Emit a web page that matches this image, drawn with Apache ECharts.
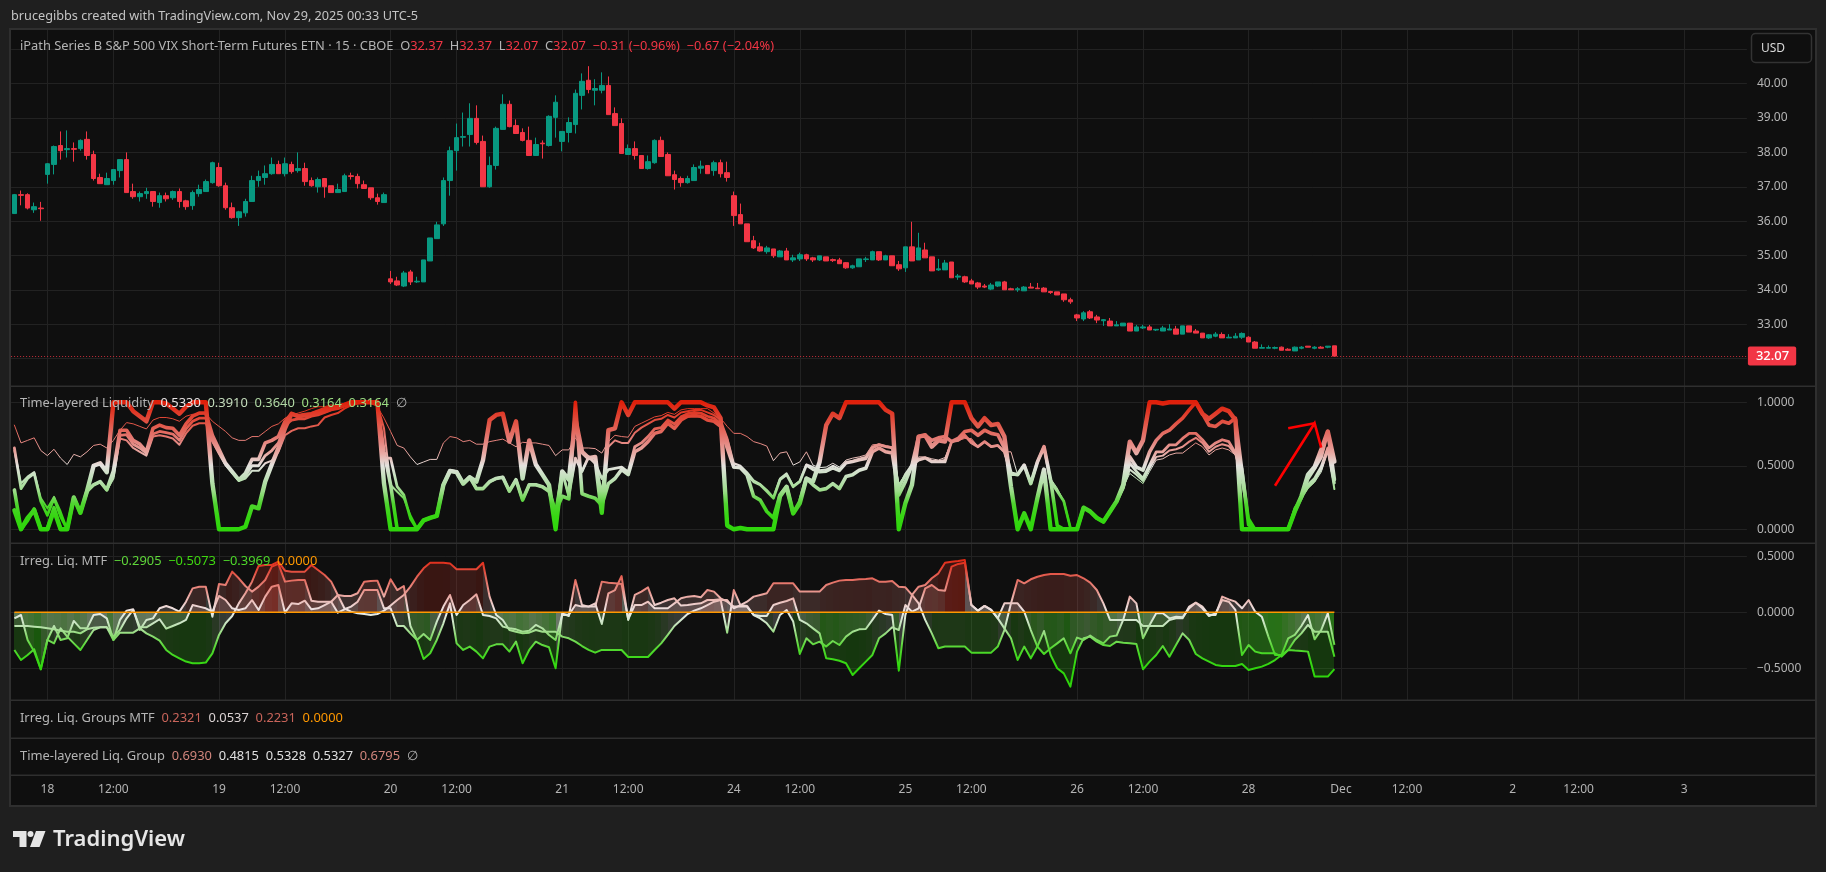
<!DOCTYPE html>
<html>
<head>
<meta charset="utf-8">
<style>html,body{margin:0;padding:0;background:#1f1f1f}#c{width:1826px;height:872px}</style>
<script src="https://cdn.jsdelivr.net/npm/echarts@6/dist/echarts.min.js"></script>
</head>
<body>
<div id="c"></div>
<script>
// candle rows: open, high, low, close (bars 0..200)
const candles = [
[36.22,36.79,36.22,36.77],[36.77,36.89,36.46,36.75],[36.77,36.81,36.34,36.38],[36.33,36.54,36.24,36.42],[36.38,36.56,36.01,36.36],
[37.36,37.69,37.09,37.67],[37.65,38.2,37.36,38.17],[38.2,38.61,37.79,38.05],[38.08,38.64,37.85,38.11],[38.11,38.29,37.73,38.09],
[38.11,38.38,38.05,38.35],[38.38,38.61,37.79,37.91],[37.94,38.05,37.18,37.24],[37.27,37.38,37.09,37.09],[37.06,37.41,37.06,37.24],
[37.18,37.5,37.06,37.5],[37.47,37.79,37.27,37.79],[37.79,38.0,36.83,36.83],[36.86,37.09,36.65,36.71],[36.71,36.86,36.57,36.8],
[36.8,36.97,36.65,36.86],[36.86,36.86,36.42,36.57],[36.54,36.83,36.39,36.74],[36.74,36.83,36.57,36.65],[36.68,36.89,36.62,36.86],
[36.86,36.95,36.39,36.57],[36.59,36.62,36.33,36.42],[36.45,36.89,36.33,36.83],[36.8,37.06,36.71,36.92],[36.86,37.21,36.86,37.15],
[37.12,37.73,37.09,37.7],[37.56,37.7,37.0,37.03],[37.03,37.12,36.33,36.39],[36.39,36.54,36.07,36.1],[36.1,36.3,35.86,36.27],
[36.24,36.65,36.13,36.57],[36.57,37.32,36.57,37.18],[37.18,37.47,37.0,37.3],[37.27,37.62,37.06,37.38],[37.38,37.85,37.35,37.65],
[37.65,37.76,37.38,37.38],[37.38,37.85,37.3,37.67],[37.65,37.73,37.38,37.44],[37.47,38.0,37.41,37.53],[37.53,37.7,37.03,37.15],
[37.18,37.27,37.0,37.03],[37.0,37.27,36.83,37.21],[37.24,37.24,36.68,37.0],[37.03,37.03,36.83,36.83],[36.83,37.09,36.83,36.92],
[36.86,37.38,36.86,37.32],[37.32,37.41,37.21,37.3],[37.3,37.38,36.95,37.09],[37.06,37.18,36.95,36.95],[36.97,36.97,36.62,36.68],
[36.68,36.8,36.48,36.57],[36.54,36.83,36.54,36.77],[34.32,34.55,34.17,34.23],[34.26,34.38,34.11,34.14],[34.11,34.55,34.08,34.49],
[34.52,34.58,34.14,34.23],[34.23,34.38,34.2,34.25],[34.23,34.87,34.23,34.87],[34.84,35.51,34.84,35.51],[35.49,35.98,35.49,35.89],
[35.92,37.27,35.86,37.18],[37.18,38.17,36.74,38.05],[38.05,38.84,37.47,38.43],[38.44,39.16,38.17,38.46],[38.52,39.43,38.17,38.99],
[38.99,39.37,38.23,38.29],[38.32,38.49,37.0,37.0],[37.0,37.88,36.97,37.62],[37.62,38.75,37.5,38.7],[38.67,39.69,38.67,39.4],
[39.4,39.51,38.73,38.75],[38.78,38.96,38.55,38.55],[38.58,38.7,38.32,38.35],[38.35,38.75,37.91,37.91],[37.91,38.43,37.91,38.23],
[38.27,38.35,37.82,38.25],[38.2,39.08,38.17,39.05],[39.02,39.66,38.43,39.46],[38.32,38.61,38.03,38.61],[38.58,39.02,38.29,38.87],
[38.81,39.83,38.55,39.72],[39.66,40.3,39.25,40.07],[40.1,40.51,39.72,39.83],[39.81,40.13,39.37,39.86],[39.81,40.33,39.72,39.95],
[39.95,40.21,39.1,39.1],[39.13,39.31,38.78,38.78],[38.84,38.99,37.97,37.97],[37.94,38.23,37.94,38.11],[38.11,38.32,37.79,37.91],
[37.91,37.91,37.53,37.53],[37.53,37.91,37.5,37.73],[37.7,38.38,37.67,38.35],[38.35,38.46,37.88,37.88],[37.94,38.0,37.32,37.32],
[37.35,37.47,36.92,37.21],[37.24,37.3,37.0,37.12],[37.12,37.32,37.09,37.24],[37.18,37.65,37.18,37.56],[37.54,37.76,37.38,37.6],
[37.62,37.62,37.38,37.38],[37.47,37.76,37.32,37.7],[37.7,37.79,37.27,37.38],[37.41,37.73,37.15,37.27],[36.74,36.86,35.86,36.16],
[36.19,36.51,35.92,35.92],[35.92,35.92,35.4,35.4],[35.43,35.57,35.19,35.22],[35.25,35.37,35.11,35.13],[35.11,35.28,35.05,35.22],
[35.19,35.19,34.93,34.99],[34.96,35.16,34.96,35.13],[35.13,35.22,34.87,34.87],[34.87,35.02,34.81,34.93],[34.9,35.08,34.84,35.02],
[35.02,35.05,34.84,34.9],[34.93,34.96,34.81,34.87],[34.87,34.99,34.84,34.99],[34.96,34.96,34.84,34.84],[34.88,34.91,34.81,34.85],
[34.87,34.93,34.76,34.76],[34.79,34.81,34.61,34.64],[34.64,34.73,34.61,34.7],[34.67,34.9,34.67,34.9],[34.88,34.96,34.81,34.9],
[34.87,35.14,34.87,35.11],[35.11,35.11,34.84,34.87],[34.87,35.02,34.87,34.99],[34.99,34.99,34.7,34.7],[34.73,34.84,34.55,34.61],
[34.64,35.25,34.52,35.25],[35.25,35.98,34.84,34.84],[34.87,35.66,34.87,35.22],[35.16,35.37,34.93,34.93],[34.96,34.96,34.55,34.55],
[34.58,34.9,34.55,34.61],[34.58,34.87,34.58,34.78],[34.81,34.81,34.35,34.35],[34.37,34.46,34.29,34.4],[34.38,34.41,34.2,34.23],
[34.26,34.32,34.17,34.17],[34.2,34.23,34.02,34.08],[34.11,34.17,34.05,34.08],[34.02,34.2,33.99,34.14],[34.11,34.23,34.08,34.23],
[34.23,34.26,34.0,34.0],[34.03,34.06,34.0,34.0],[34.0,34.08,33.94,34.03],[33.97,34.11,33.97,34.08],[34.08,34.2,34.05,34.05],
[34.05,34.2,34.03,34.03],[34.05,34.08,33.94,33.94],[33.95,33.97,33.88,33.92],[33.94,33.94,33.85,33.85],[33.88,33.88,33.65,33.71],
[33.71,33.77,33.59,33.65],[33.27,33.3,33.09,33.18],[33.15,33.38,33.09,33.33],[33.36,33.41,33.15,33.18],[33.21,33.27,33.03,33.12],
[33.1,33.15,32.95,33.13],[33.09,33.18,32.95,32.95],[32.95,33.09,32.95,32.98],[32.95,33.03,32.95,33.03],[33.03,33.03,32.8,32.8],
[32.8,32.98,32.8,32.92],[32.89,32.98,32.86,32.92],[32.92,32.98,32.83,32.83],[32.83,32.85,32.8,32.85],[32.8,32.95,32.8,32.89],
[32.83,33.0,32.83,32.86],[32.86,32.95,32.71,32.71],[32.71,32.95,32.71,32.95],[32.95,32.95,32.77,32.77],[32.8,32.86,32.74,32.74],
[32.74,32.74,32.6,32.6],[32.6,32.71,32.57,32.69],[32.65,32.77,32.62,32.71],[32.7,32.76,32.6,32.6],[32.6,32.71,32.6,32.62],
[32.6,32.74,32.6,32.65],[32.62,32.76,32.57,32.73],[32.62,32.65,32.48,32.48],[32.48,32.51,32.3,32.3],[32.3,32.41,32.3,32.32],
[32.3,32.38,32.3,32.32],[32.3,32.35,32.27,32.32],[32.33,32.35,32.24,32.24],[32.27,32.3,32.24,32.24],[32.22,32.35,32.22,32.33],
[32.3,32.36,32.27,32.33],[32.36,32.36,32.33,32.33],[32.3,32.36,32.27,32.33],[32.33,32.36,32.3,32.3],[32.33,32.36,32.3,32.36],
[32.37,32.37,32.07,32.07]
];

// Time-layered Liquidity plots
const liqA = [.15,0,.09,.15,0,0,.15,0,0,.25,
.13,.30,.50,.52,.45,1,1,1,.93,.89,
.85,1,1,.99,.95,.91,.965,1,1,1,
.36,0,0,0,0,.02,.18,.165,.375,.51,
.64,.795,.91,.89,.90,.905,.92,.93,.95,.965,
.98,1,1,1,1,1,.36,0,0,0,
0,0,.07,.09,.105,.35,.46,.45,.36,.41,
.375,.545,.86,.90,.91,.69,.85,.40,.70,.51,
.43,.35,0,.455,.39,.87,.61,.56,.57,.13,
.78,.795,1,.90,1,1,1,1,1,1,
.95,1,1,1,1,.975,.96,.875,.03,0,
.01,0,0,0,0,0,.26,.335,.125,.205,
.40,.375,.53,.82,.91,.875,1,1,1,1,
1,1,.94,.91,0,.205,.35,.73,.74,.65,
.70,.69,1,1,1,.875,.81,.875,.82,.83,
.73,.335,0,.125,0,.245,.47,0,0,0,
0,0,.17,.14,.09,.06,.14,.22,.35,.69,
.60,.70,1,1,.99,1,1,1,1,1,
.91,.87,.91,.95,.93,.86,0,0,0,0,
0,0,0,0,.14,.26,.43,.49,.625,.77,
.533];
const liqB = [.31,0,.07,.16,0,0,.17,0,0,.25,
.13,.30,.35,.375,.31,.46,.78,.78,.70,.67,
.61,.795,.82,.80,.795,.74,.83,.89,.915,.915,
.74,.63,.52,.455,.39,.44,.55,.55,.68,.70,
.73,.85,.91,.89,.90,.91,.93,.95,.96,.965,
.98,.99,1,1,1,.98,.61,.35,0,0,
0,0,.07,.09,.105,.35,.46,.45,.36,.41,
.32,.32,.375,.40,.41,.30,.39,.23,.35,.35,
.335,.30,.14,.26,.24,1,.28,.26,.245,.19,
.36,.40,.47,.43,.61,.64,.69,.755,.77,.835,
.795,.86,.89,.895,.89,.86,.85,.81,.64,.49,
.485,.43,.26,.23,.14,.09,.27,.335,.125,.22,
.40,.35,.31,.32,.36,.32,.415,.43,.465,.48,
.61,.64,.61,.60,.27,.375,.505,.73,.74,.70,
.72,.73,.69,.715,.77,.78,.74,.78,.755,.745,
.64,.44,.43,.505,.36,.53,.65,.39,.03,0,
0,0,.17,.14,.09,.06,.14,.22,.33,.57,
.49,.465,.61,.70,.755,.78,.83,.875,.94,1,
.91,.82,.81,.85,.835,.875,.455,.035,0,0,
0,0,0,0,.14,.255,.40,.48,.57,.77,
.391];
const liqC = [.64,.32,.40,.44,.22,.11,.245,.10,0,.25,
.13,.30,.35,.375,.31,.42,.74,.745,.67,.64,
.60,.75,.77,.76,.75,.70,.79,.85,.875,.875,
.70,.60,.51,.45,.385,.42,.50,.50,.58,.62,
.68,.82,.86,.87,.87,.89,.90,.92,.94,.95,
.97,.98,1,1,1,1,.56,.56,.335,.27,
.085,0,.07,.09,.105,.35,.46,.45,.36,.41,
.32,.32,.375,.40,.41,.30,.39,.23,.35,.35,
.335,.30,.14,.455,.26,.56,.455,.57,.52,.40,
.47,.48,.49,.45,.65,.68,.73,.79,.80,.86,
.83,.885,.91,.92,.915,.89,.875,.83,.70,.49,
.485,.43,.375,.35,.30,.245,.39,.43,.335,.375,
.505,.47,.45,.455,.48,.46,.52,.53,.545,.555,
.64,.665,.65,.64,.32,.43,.505,.545,.56,.53,
.53,.53,.69,.70,.74,.68,.65,.69,.65,.66,
.61,.43,.43,.505,.36,.53,.65,.375,.30,.22,
.01,0,.17,.14,.09,.06,.14,.22,.33,.52,
.455,.40,.505,.61,.61,.665,.665,.715,.755,.755,
.705,.64,.68,.705,.69,.60,.48,.085,0,0,
0,0,0,0,.165,.245,.35,.40,.49,.64,
.364];
const liqD = [.62,.36,.415,.45,.245,.165,.255,.14,0,.25,
.13,.30,.35,.375,.31,.40,.715,.70,.64,.61,
.58,.73,.74,.73,.715,.665,.755,.815,.835,.835,
.69,.60,.505,.44,.38,.40,.46,.46,.52,.54,
.61,.74,.775,.795,.795,.81,.82,.88,.90,.915,
.95,.975,.99,1,1,.98,.795,.35,.295,.245,
.11,.01,.07,.09,.105,.35,.46,.45,.36,.41,
.32,.32,.375,.40,.41,.30,.39,.23,.35,.35,
.335,.30,.14,.455,.26,.56,.455,.57,.52,.30,
.65,.70,.68,.68,.76,.80,.83,.86,.87,.90,
.88,.92,.93,.94,.94,.92,.90,.86,.72,.52,
.50,.45,.385,.355,.31,.25,.40,.44,.34,.38,
.51,.49,.465,.47,.50,.475,.53,.54,.555,.57,
.65,.67,.655,.645,.34,.43,.50,.555,.565,.54,
.535,.545,.69,.70,.73,.70,.65,.69,.65,.66,
.61,.43,.43,.505,.36,.53,.65,.385,.31,.22,
.01,0,.17,.14,.09,.06,.14,.22,.33,.47,
.43,.38,.48,.57,.58,.62,.63,.65,.69,.72,
.68,.61,.65,.67,.655,.59,.40,.07,0,0,
0,0,0,0,.165,.245,.33,.38,.47,.62,
.3164];
const liqE = [.82,.68,.70,.72,.62,.58,.63,.56,.51,.59,
.57,.61,.66,.67,.64,.70,.78,.84,.83,.81,
.79,.86,.88,.88,.87,.85,.89,.905,.905,.91,
.85,.81,.77,.72,.70,.70,.73,.73,.77,.81,
.83,.875,.90,.915,.93,.95,.965,.965,.98,.965,
.98,1,1,1,1,.965,.875,.77,.66,.64,
.57,.51,.53,.55,.55,.68,.73,.72,.69,.70,
.67,.67,.69,.70,.71,.68,.65,.685,.68,.68,
.67,.66,.58,.625,.625,.72,.64,.64,.635,.60,
.69,.74,.73,.725,.81,.835,.86,.885,.895,.92,
.905,.94,.95,.95,.95,.95,.915,.875,.81,.755,
.755,.73,.69,.675,.655,.54,.60,.61,.505,.53,
.61,.505,.485,.49,.52,.49,.545,.56,.57,.585,
.665,.67,.65,.645,.36,.43,.49,.57,.57,.555,
.545,.565,.69,.70,.715,.715,.65,.69,.65,.66,
.61,.61,.43,.50,.36,.53,.65,.40,.325,.22,
.01,0,.17,.14,.09,.06,.14,.22,.33,.44,
.40,.36,.455,.545,.555,.585,.60,.60,.64,.68,
.65,.585,.625,.64,.625,.585,.35,.06,0,0,
0,0,0,0,.165,.245,.32,.37,.45,.61,
.3164];

// Irreg. Liq. MTF plots
const irrA = [-.336,-.426,-.381,-.33,-.509,-.247,-.277,-.143,-.217,-.277,
-.336,-.247,-.158,-.134,-.134,-.247,-.182,-.182,-.182,-.143,
-.188,-.217,-.253,-.336,-.381,-.411,-.44,-.455,-.455,-.449,
-.366,-.202,-.098,-.033,.08,.17,.274,.414,.423,.423,
.452,.372,.363,.363,.363,.423,.378,.333,.274,.155,
.036,.006,-.009,-.015,-.024,-.015,.015,.06,.11,.155,
.229,.318,.393,.443,.443,.443,.437,.384,.384,.384,
.384,.443,.14,-.024,-.068,-.158,-.173,-.188,-.182,-.158,
-.173,-.173,-.173,-.217,-.232,-.262,-.301,-.336,-.36,-.336,
-.336,-.336,-.336,-.399,-.399,-.399,-.399,-.336,-.277,-.202,
-.122,-.068,-.015,.015,.036,.065,.095,.11,.11,.036,
.065,.095,.14,.155,.17,.259,.259,.259,.259,.185,
.185,.185,.185,.244,.265,.283,.289,.289,.295,.298,
.304,.274,.274,.28,.229,.223,.155,.08,-.068,-.188,
-.321,-.306,-.306,-.306,-.306,-.36,-.36,-.36,-.36,-.306,
-.158,.08,.289,.259,.295,.318,.333,.342,.342,.342,
.327,.333,.304,.265,.199,.08,-.068,-.068,-.068,-.068,
-.068,-.122,-.122,-.122,-.122,-.068,-.054,-.054,.051,.086,
.051,-.024,-.024,.14,.116,.095,.036,.11,.006,-.039,
-.217,-.381,-.381,-.232,-.202,-.122,-.024,-.241,-.158,-.009,
-.2905];
const irrB = [-.054,-.024,-.247,-.351,-.509,-.247,-.122,-.247,-.232,-.077,
-.143,-.143,-.024,-.015,-.054,-.247,-.068,.015,.027,-.158,
-.068,-.054,.036,.057,.036,.006,.095,.214,.229,.229,
-.039,.253,.244,.363,.304,.235,.185,.229,.289,.408,
.432,.274,.283,.289,.289,.104,.095,.095,.095,.155,
.146,.146,.17,.274,.28,.283,.14,.295,.199,.235,
-.122,-.247,-.417,-.366,-.247,-.098,.08,-.277,-.336,-.306,
-.351,-.411,-.306,-.286,-.286,-.351,-.262,-.455,-.336,-.262,
-.292,-.312,-.5,-.009,-.033,.289,.065,.051,.051,.274,
.265,.259,.253,-.062,.065,.065,.095,.036,.036,.036,
.08,.125,.14,.146,.134,.199,.185,.125,.095,.051,
.051,.051,-.024,-.054,-.098,-.173,-.024,.021,-.083,-.372,
-.232,-.286,-.262,-.306,-.256,-.292,-.217,-.173,-.152,-.149,
-.068,.015,-.015,-.024,-.521,-.024,.155,.229,.244,.304,
.348,.443,.452,.458,.467,.065,.015,.057,.021,-.054,
-.143,-.232,-.426,-.306,-.411,-.306,-.167,-.381,-.5,-.545,
-.664,-.351,-.232,-.217,-.262,-.292,-.301,-.262,-.271,-.277,
-.283,-.509,-.44,-.381,-.301,-.396,-.292,-.188,-.247,-.372,
-.411,-.44,-.47,-.479,-.479,-.479,-.461,-.515,-.5,-.485,
-.461,-.426,-.381,-.336,-.342,-.345,-.351,-.574,-.574,-.574,
-.5073];
const irrC = [-.122,-.122,-.122,-.128,-.134,-.143,-.152,-.164,-.173,-.173,
-.188,-.152,-.137,-.134,-.134,-.217,-.158,-.054,.021,-.134,
-.134,-.098,-.062,-.146,-.122,-.098,-.068,.065,.051,.036,
.006,.146,.11,.036,.021,.036,.11,.021,.14,.229,
.244,-.003,.08,.074,.104,.027,.036,.065,.095,-.003,
.027,.051,.095,.199,.199,.199,.036,.036,-.122,-.122,
-.188,-.247,-.193,-.247,-.083,.051,.155,-.024,.065,.11,
.161,-.024,-.033,-.054,-.128,-.143,-.152,-.173,-.164,-.113,
-.143,-.202,-.247,-.024,-.024,.065,.051,.051,.08,-.104,
.17,.199,.324,-.068,.155,.185,.223,.065,.086,.11,
.125,.06,.065,.074,.08,.11,.11,.116,-.182,.199,
.065,.057,-.024,-.033,-.033,.065,.086,.101,.125,-.068,
-.098,-.143,-.188,-.411,-.42,-.432,-.455,-.56,-.5,-.44,
-.381,-.232,-.188,-.134,-.158,.065,.006,.036,.214,.244,
.199,.193,.408,.432,.443,.065,.015,.057,.021,-.054,
.08,.08,.08,.006,-.158,-.306,-.372,-.321,-.277,-.232,
-.366,-.226,-.247,-.208,-.247,-.277,-.217,-.208,-.068,.14,
.08,-.232,-.113,-.009,-.009,-.054,-.039,-.045,.036,.086,
.036,-.033,-.009,.11,.095,.021,-.381,-.292,-.351,-.366,
-.366,-.366,-.396,-.336,-.247,-.188,-.113,-.173,-.173,-.173,
-.3969];
const irrZero = irrA.map(() => 0);

// time axis: band index -> tick label
const tickBars = [5,15,31,41,57,67,83,93,109,119,135,145,161,171,187,201,211,227,237,253];
const tickLabels = ['18','12:00','19','12:00','20','12:00','21','12:00','24','12:00','25','12:00','26','12:00','28','Dec','12:00','2','12:00','3'];
const barCount = 263;
const priceTicks = [33,34,35,36,37,38,39,40];
const priceGrid = [32,33,34,35,36,37,38,39,40,41];
const liqTicks = [0,.5,1];
const irrTicks = [-.5,0,.5];
const lastPrice = 32.07;
// hand-drawn arrow: [bar, value] on the Time-layered pane
const arrowBody = [[191,.343],[197.1,.835],[197.8,.643]];
const arrowHead = [[193.4,.795],[197.1,.835]];

const liqColors = ['#2fd60c','#36d612','#4ed42e','#9cdc8a','#bfe0b8','#e4e2de','#e8a8a2','#e4807a','#e25f52','#e03f2e','#df1f0a'];
const irrColors = ['#2fd60c','#3fd81c','#5ad838','#90dc78','#c8e4c0','#ececec','#ecc0bc','#e88f86','#e4685c','#e2402f','#df1f0a'];

const categories = [];
for (let i = 0; i < barCount; i++) { const k = tickBars.indexOf(i); categories.push(k >= 0 ? tickLabels[k] : ''); }
const ohlcData = candles.map(r => [r[0], r[3], r[2], r[1]]);

const FONT = '"Noto Sans", sans-serif';
const GRID = '#222222', SEP = '#2f2f2f', TXT = '#b4b4b4';
const L = 11.1, W = 1735.8;
const isTick = (i) => categories[i] !== '';
const xAxis = (gi, extra) => Object.assign({
  type:'category', gridIndex:gi, data:categories, boundaryGap:true,
  axisLine:{show:false}, axisTick:{show:false}, axisLabel:{show:false},
  splitLine:{show:true, alignWithLabel:true, interval:(i)=>isTick(i), lineStyle:{color:GRID,width:1}}
}, extra||{});
const yAxis = (gi,min,max,grid,labels,fmt) => ({
  type:'value', gridIndex:gi, position:'right', min, max, scale:true,
  axisLine:{show:false},
  axisTick:{show:false, customValues:grid},
  axisLabel:{color:TXT, fontFamily:FONT, fontSize:12, margin:10, customValues:labels, formatter:fmt},
  splitLine:{show:true, lineStyle:{color:GRID,width:1}}
});
const fmt4 = (v) => (v<0?'\u2212':'') + Math.abs(v).toFixed(4);

function liqLine(name,data,width){
  return {name,type:'line',xAxisIndex:1,yAxisIndex:1,data,showSymbol:false,symbol:'none',
    lineStyle:{width,join:'round',cap:'round'},clip:true,silent:true};
}
function irrLine(name,data){
  return {name,type:'line',xAxisIndex:2,yAxisIndex:2,data,showSymbol:false,symbol:'none',
    lineStyle:{width:2,join:'round'},silent:true,z:3};
}
function irrBand(name,data){
  const d = data.map((v,i)=>[i,v,i>0?data[i-1]:v]);
  return {name,type:'custom',xAxisIndex:2,yAxisIndex:2,data:d,silent:true,z:2,encode:{x:0,y:1},
    renderItem:(params,api)=>{
      const i = api.value(0), v = api.value(1), p = api.value(2);
      if (i===0) return null;
      const a = api.coord([i-1,p]), b = api.coord([i,v]), c = api.coord([i,0]), e = api.coord([i-1,0]);
      const x0 = Math.round(a[0]), x1 = Math.round(b[0]);
      const col = echarts.color.lerp(Math.max(0,Math.min(1,v+.5)), irrColors);
      return {type:'polygon',shape:{points:[[x0,a[1]],[x1,b[1]],[x1,c[1]],[x0,e[1]]]},style:{fill:echarts.color.modifyAlpha(col,.2)}};
    }};
}
const arrowSeries = (name,data) => ({name,type:'custom',xAxisIndex:1,yAxisIndex:1,data,silent:true,z:6,encode:{x:0,y:1},
  renderItem:(params,api)=>{
    if (params.dataIndex!==0) return null;
    return {type:'polyline',shape:{points:data.map(p=>api.coord(p))},style:{fill:'none',stroke:'#ff0000',lineWidth:2.6}};
  }});

const series = [
  {name:'VXX',type:'candlestick',xAxisIndex:0,yAxisIndex:0,data:ohlcData,barWidth:5,silent:true,
   itemStyle:{color:'#089981',color0:'#f23645',borderColor:'#089981',borderColor0:'#f23645',borderWidth:1},
   markLine:{silent:true,symbol:'none',animation:false,data:[{yAxis:lastPrice}],
     lineStyle:{color:'rgba(242,54,69,.8)',type:[1,2],width:1},
     label:{show:true,position:'end',distance:1,formatter:'32.07',color:'#fff',fontFamily:FONT,fontSize:13,fontWeight:500,
       backgroundColor:'#f23645',padding:[3,7,3,8],borderRadius:2}}},
  liqLine('Liq 1',liqA,4.4),
  liqLine('Liq 2',liqB,3.6),
  liqLine('Liq 3',liqC,2.8),
  liqLine('Liq 4',liqD,2),
  liqLine('Liq 5',liqE,1),
  irrBand('Fill 1',irrA),irrBand('Fill 2',irrB),irrBand('Fill 3',irrC),
  irrLine('Irreg 1',irrA),irrLine('Irreg 2',irrB),irrLine('Irreg 3',irrC),
  {name:'Zero',type:'line',xAxisIndex:2,yAxisIndex:2,data:irrZero,showSymbol:false,symbol:'none',silent:true,z:4,
   lineStyle:{color:'#ff9800',width:1.5}},
  arrowSeries('Arrow',arrowBody),arrowSeries('Arrow head',arrowHead)
];

const rich = (parts) => parts.map((p,i)=>`{s${i}|${p[0]}}`).join('');
const richStyles = (parts,size) => { const r={}; parts.forEach((p,i)=>{r['s'+i]={fill:p[1],fontFamily:FONT,fontSize:size||12};}); return r; };
const G='#b4b4b4', R='#f23645';
function textEl(x,y,parts,size){
  return {type:'text',x,y,z:20,silent:true,style:{text:rich(parts),rich:richStyles(parts,size),verticalAlign:'middle',font:(size||12)+'px '+FONT}};
}
const legends = [
  textEl(11,16,[['brucegibbs created with TradingView.com, Nov 29, 2025 00:33 UTC-5','#c4c4c4']],12.7),
  textEl(20,46,[['iPath Series B S&P 500 VIX Short-Term Futures ETN \u00b7 15 \u00b7 CBOE  O',G],['32.37',R],['  H',G],['32.37',R],['  L',G],['32.07',R],['  C',G],['32.07',R],['  \u22120.31 (\u22120.96%)  \u22120.67 (\u22122.04%)',R]],12.85),
  textEl(20,403,[['Time-layered Liquidity  ',G],['0.5330  ','#e8e4e4'],['0.3910  ','#c4dcbc'],['0.3640  ','#b0d8a4'],['0.3164  ','#9cdc82'],['0.3164  ','#9cdc82'],['\u2205',G]],12.9),
  textEl(20,561,[['Irreg. Liq. MTF  ',G],['\u22120.2905  ','#5fd63a'],['\u22120.5073  ','#3fd810'],['\u22120.3969  ','#4dd82a'],['0.0000','#ff9800']],12.9),
  textEl(20,718,[['Irreg. Liq. Groups MTF  ',G],['0.2321  ','#c8645a'],['0.0537  ','#dcd4d4'],['0.2231  ','#c8645a'],['0.0000','#ff9800']],12.9),
  textEl(20,756,[['Time-layered Liq. Group  ',G],['0.6930  ','#d0857c'],['0.4815  ','#e0e0e0'],['0.5328  ','#e0e0e0'],['0.5327  ','#e0e0e0'],['0.6795  ','#d0857c'],['\u2205',G]],12.9)
];
const sepLine = (y) => ({type:'rect',z:1,silent:true,shape:{x:11,y:y-0.5,width:1804,height:1.5},style:{fill:SEP}});
const graphic = [
  {type:'rect',z:-20,silent:true,shape:{x:10,y:29,width:1806,height:777},style:{fill:'#0f0f0f',stroke:'#2f2f2f',lineWidth:2}},
  sepLine(386),sepLine(543),sepLine(700),sepLine(738),sepLine(775),
  {type:'rect',z:20,silent:true,shape:{x:1751.5,y:33.5,width:60,height:29,r:4},style:{fill:'#0f0f0f',stroke:'#333333',lineWidth:1.5}},
  {type:'text',x:1761,y:48.5,z:21,silent:true,style:{text:'USD',fill:'#d8d8d8',font:'12px '+FONT,verticalAlign:'middle'}},
  ...legends,
  {type:'text',x:53,y:840,z:20,silent:true,style:{text:'TradingView',fill:'#e6e6e6',font:'600 22px '+FONT,verticalAlign:'middle'}},
  {type:'polygon',z:20,silent:true,shape:{points:[[13,831],[26.5,831],[26.5,847],[19.5,847],[19.5,837],[13,837]]},style:{fill:'#e6e6e6'}},
  {type:'circle',z:20,silent:true,shape:{cx:30.5,cy:834,r:3},style:{fill:'#e6e6e6'}},
  {type:'polygon',z:20,silent:true,shape:{points:[[36,831],[45.5,831],[39.5,847],[30,847]]},style:{fill:'#e6e6e6'}}
];

const option = {
  backgroundColor:'#1f1f1f',
  animation:false,
  grid:[
    {left:L,width:W,top:30,height:356},
    {left:L,width:W,top:386,height:157},
    {left:L,width:W,top:543,height:157},
    {left:L,width:W,top:775,height:1}
  ],
  xAxis:[
    xAxis(0),xAxis(1),xAxis(2),
    {type:'category',gridIndex:3,data:categories,boundaryGap:true,position:'bottom',
     axisLine:{show:false},axisTick:{show:false},splitLine:{show:false},
     axisLabel:{show:true,color:TXT,fontFamily:FONT,fontSize:12,margin:8,interval:(i)=>isTick(i),hideOverlap:false}}
  ],
  yAxis:[
    yAxis(0,31.2,41.563,priceGrid,priceTicks,(v)=>v.toFixed(2)),
    yAxis(1,-.108,1.128,liqTicks,liqTicks,fmt4),
    yAxis(2,-.783,.619,irrTicks,irrTicks,fmt4),
    {type:'value',gridIndex:3,show:false}
  ],
  visualMap:[
    {type:'continuous',show:false,seriesIndex:[1,2,3,4,5],dimension:1,min:0,max:1,inRange:{color:liqColors}},
    {type:'continuous',show:false,seriesIndex:[9,10,11],dimension:1,min:-.5,max:.5,inRange:{color:irrColors}}
  ],
  series,
  graphic
};
const chart = echarts.init(document.getElementById('c'),null,{renderer:'canvas',width:1826,height:872});
chart.setOption(option);
</script>
</body>
</html>
